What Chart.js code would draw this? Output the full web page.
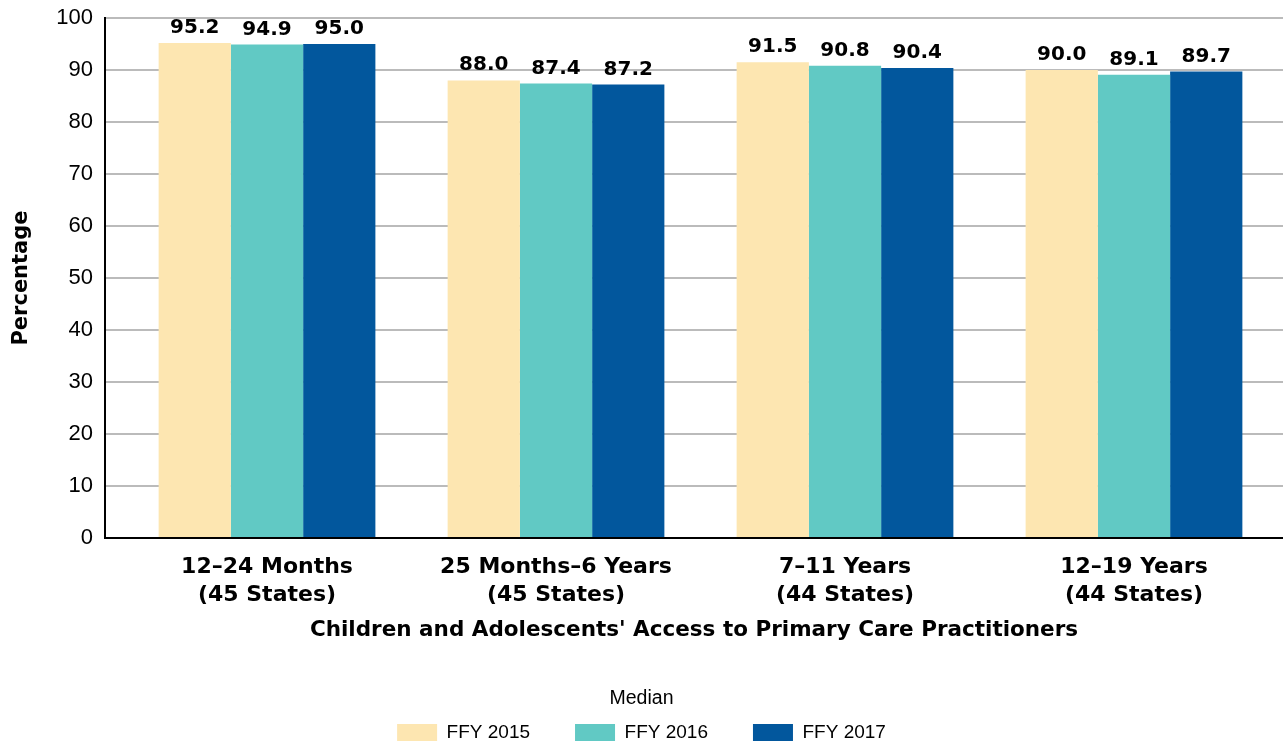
<!DOCTYPE html>
<html>
<head>
<meta charset="utf-8">
<script src="https://cdn.jsdelivr.net/npm/chart.js@4.4.1/dist/chart.umd.min.js"></script>
<style>
  html, body { margin: 0; padding: 0; background: #fff; overflow: hidden; }
  #wrap { width: 1283px; height: 744px; position: relative; }
</style>
</head>
<body>
<div id="wrap"><canvas id="chart"></canvas></div>
<script>
// Age groups shown along the x axis (two lines each)
const categories = [
  ['12\u201324 Months', '(45 States)'],
  ['25 Months\u20136 Years', '(45 States)'],
  ['7\u201311 Years', '(44 States)'],
  ['12\u201319 Years', '(44 States)']
];
const seriesNames = ['FFY 2015', 'FFY 2016', 'FFY 2017'];
const ffy2015 = [95.2, 88.0, 91.5, 90.0];
const ffy2016 = [94.9, 87.4, 90.8, 89.1];
const ffy2017 = [95.0, 87.2, 90.4, 89.7];
const yTicks = [0, 10, 20, 30, 40, 50, 60, 70, 80, 90, 100];

const colors = ['#FDE6B1', '#61C9C4', '#02579D'];
const REG = "'Liberation Sans', Arial, sans-serif";
const BOLD = "'DejaVu Sans', Verdana, sans-serif";

Chart.defaults.font.family = REG;
Chart.defaults.color = '#000';

const seriesValues = [ffy2015, ffy2016, ffy2017];
const datasets = seriesNames.map((name, i) => ({
  label: name,
  data: seriesValues[i].map((v, k) => ({ x: k, y: v })),
  backgroundColor: colors[i],
  borderWidth: 0,
  barPercentage: 1,
  categoryPercentage: 0.75
}));

// value labels above each bar
const valueLabels = {
  id: 'valueLabels',
  afterDatasetsDraw(chart) {
    const ctx = chart.ctx;
    ctx.save();
    ctx.font = 'bold 20px ' + BOLD;
    ctx.fillStyle = '#000';
    ctx.textAlign = 'center';
    ctx.textBaseline = 'alphabetic';
    chart.data.datasets.forEach((ds, di) => {
      chart.getDatasetMeta(di).data.forEach((bar, k) => {
        ctx.fillText(seriesValues[di][k].toFixed(1), bar.x, bar.y - 10);
      });
    });
    ctx.restore();
  }
};

new Chart(document.getElementById('chart'), {
  type: 'bar',
  data: { datasets },
  plugins: [valueLabels],
  options: {
    responsive: true,
    maintainAspectRatio: false,
    animation: false,
    layout: { padding: { top: 18, left: 0, right: 0, bottom: -8 } },
    plugins: {
      tooltip: { enabled: false },
      legend: {
        position: 'bottom',
        title: {
          display: true,
          text: 'Median',
          color: '#000',
          font: { family: REG, size: 19.5 },
          padding: { top: 9.3, bottom: -34.7 }
        },
        labels: {
          boxWidth: 40,
          boxHeight: 17,
          padding: 45,
          color: '#000',
          font: { family: REG, size: 19 }
        }
      }
    },
    scales: {
      x: {
        type: 'linear',
        min: -0.5606,
        max: 3.5156,
        offset: false,
        afterBuildTicks(scale) {
          scale.ticks = categories.map((c, i) => ({ value: i }));
        },
        afterFit(scale) { scale.height = 142; },
        grid: { display: false, drawTicks: false },
        border: { display: true, color: '#000', width: 2 },
        ticks: {
          autoSkip: false,
          maxRotation: 0,
          minRotation: 0,
          padding: 15,
          color: '#000',
          font: { family: BOLD, size: 22, weight: 'bold', lineHeight: 1.273 },
          callback: (v) => categories[v]
        },
        title: {
          display: true,
          text: "Children and Adolescents' Access to Primary Care Practitioners",
          color: '#000',
          font: { family: BOLD, size: 21.5, weight: 'bold' },
          padding: { top: 0, bottom: 37.1 }
        }
      },
      y: {
        min: 0,
        max: 100,
        afterBuildTicks(scale) {
          scale.ticks = yTicks.map(v => ({ value: v }));
        },
        afterFit(scale) {
          scale.width = 105;
          scale.paddingTop = 0;
          scale.paddingBottom = 0;
        },
        grid: { color: '#BBBBBB', lineWidth: 2, drawTicks: false },
        border: { display: true, color: '#000', width: 2 },
        ticks: {
          padding: 12,
          color: '#000',
          font: { family: REG, size: 22 }
        },
        title: {
          display: true,
          text: 'Percentage',
          color: '#000',
          font: { family: BOLD, size: 21, weight: 'bold' },
          padding: { top: 9.4, bottom: 0 }
        }
      }
    }
  }
});
</script>
</body>
</html>
